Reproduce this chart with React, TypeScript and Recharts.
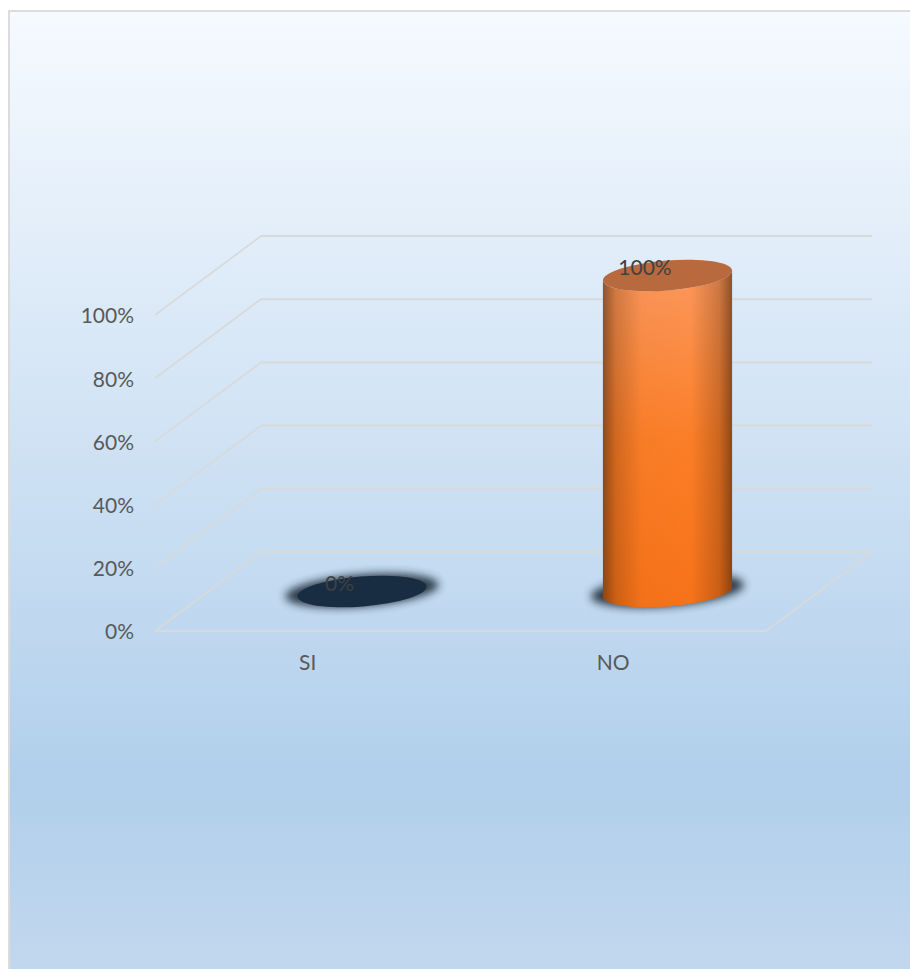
import { Bar, BarChart, CartesianGrid, LabelList, XAxis, YAxis } from "recharts";

const categories = ["SI", "NO"];
const percentValues = [0, 100];
const yTicks = [0, 20, 40, 60, 80, 100];

const data = categories.map((name, i) => ({ name, value: percentValues[i] }));

// floor depth of the pseudo 3D box
const DEPTH_X = 106;
const DEPTH_Y = -79;
const TILT = -4.5;
const FONT = "Lato, 'Open Sans', sans-serif";
const capColors = ["#182c42", "#b8693d"];
const gridColor = "#d8d9da";

function GridLine(props: any) {
    const { x1, x2, y1, index } = props;
    return (
        <g>
            <line x1={x1} y1={y1} x2={x1 + DEPTH_X} y2={y1 + DEPTH_Y} stroke={gridColor} strokeWidth={1.7} />
            <line x1={x1 + DEPTH_X} y1={y1 + DEPTH_Y} x2={x2 + DEPTH_X} y2={y1 + DEPTH_Y} stroke={gridColor} strokeWidth={2} />
            {/* ticks run bottom up here, first one is the floor */}
            {index === 0 && (
                <>
                    <line x1={x1} y1={y1} x2={x2} y2={y1} stroke={gridColor} strokeWidth={2} />
                    <line x1={x2} y1={y1} x2={x2 + DEPTH_X} y2={y1 + DEPTH_Y} stroke={gridColor} strokeWidth={1.7} />
                </>
            )}
        </g>
    );
}

function Cylinder(props: any) {
    const { x, y, width, height, index } = props;
    const cx = x + width / 2 + DEPTH_X / 2 + 1.5;
    const top = y + DEPTH_Y / 2;
    const bottom = top + height;
    const rx = width * 0.502;
    const ry = width * 0.116;
    const a = (TILT * Math.PI) / 180;
    const t = Math.atan((-ry / rx) * Math.tan(a));
    const ex = rx * Math.cos(t) * Math.cos(a) - ry * Math.sin(t) * Math.sin(a);
    const ey = rx * Math.cos(t) * Math.sin(a) + ry * Math.sin(t) * Math.cos(a);
    const body =
        `M ${cx - ex} ${top - ey} L ${cx - ex} ${bottom - ey} ` +
        `A ${rx} ${ry} ${TILT} 0 0 ${cx + ex} ${bottom + ey} ` +
        `L ${cx + ex} ${top + ey} A ${rx} ${ry} ${TILT} 0 1 ${cx - ex} ${top - ey} Z`;
    return (
        <g>
            <ellipse
                cx={cx}
                cy={bottom - 1}
                rx={rx + 12}
                ry={ry + 1}
                fill="#1c2a38"
                opacity={0.9}
                filter="url(#floorShadow)"
                transform={`rotate(${TILT} ${cx} ${bottom})`}
            />
            {height > 0 && (
                <>
                    <path d={body} fill="url(#bodyFill)" />
                    <path d={body} fill="url(#bodyShade)" />
                </>
            )}
            <ellipse
                cx={cx}
                cy={top}
                rx={rx}
                ry={ry}
                fill={capColors[index]}
                transform={`rotate(${TILT} ${cx} ${top})`}
            />
        </g>
    );
}

function ValueLabel(props: any) {
    const { x, y, width, value } = props;
    return (
        <text
            x={x + width / 2 + 32}
            y={y - 49}
            textAnchor="middle"
            dominantBaseline="central"
            fontFamily={FONT}
            fontSize={21}
            fill="#404040"
        >
            {`${value}%`}
        </text>
    );
}

export default function App() {
    return (
        <div style={{ position: "absolute", left: 0, top: 0, width: 910, height: 969, overflow: "hidden" }}>
            <div
                style={{
                    position: "absolute",
                    left: 8,
                    top: 10,
                    width: 920,
                    height: 980,
                    boxSizing: "border-box",
                    border: "2px solid #dcdcdc",
                    background: "linear-gradient(180deg, #f6faff 0%, #b1cfeb 79%, #c3d8ee 100%)",
                }}
            />
            <BarChart
                width={910}
                height={969}
                data={data}
                margin={{ top: 315, right: 144, bottom: 268, left: 75 }}
                barSize={129}
                style={{ position: "absolute", left: 0, top: 0 }}
            >
                <defs>
                    <linearGradient id="bodyFill" x1="0" y1="0" x2="0" y2="1">
                        <stop offset="0%" stopColor="#ff9a5e" />
                        <stop offset="50%" stopColor="#ff8028" />
                        <stop offset="100%" stopColor="#fa7419" />
                    </linearGradient>
                    <linearGradient id="bodyShade" x1="0" y1="0" x2="1" y2="0">
                        <stop offset="0%" stopColor="#4a2408" stopOpacity={0.6} />
                        <stop offset="10%" stopColor="#4a2408" stopOpacity={0.26} />
                        <stop offset="30%" stopColor="#4a2408" stopOpacity={0.04} />
                        <stop offset="68%" stopColor="#4a2408" stopOpacity={0.02} />
                        <stop offset="90%" stopColor="#4a2408" stopOpacity={0.28} />
                        <stop offset="100%" stopColor="#4a2408" stopOpacity={0.62} />
                    </linearGradient>
                    <filter id="floorShadow" x="-20%" y="-60%" width="140%" height="220%">
                        <feGaussianBlur stdDeviation="4" />
                    </filter>
                </defs>
                <CartesianGrid vertical={false} horizontal={(p: any) => <GridLine key={p.index} {...p} />} />
                <XAxis
                    dataKey="name"
                    height={70}
                    axisLine={false}
                    tickLine={false}
                    tickSize={0}
                    tickMargin={24}
                    tick={{ fontFamily: FONT, fontSize: 21, fill: "#595959" }}
                />
                <YAxis
                    width={80}
                    domain={[0, 100]}
                    ticks={yTicks}
                    tickFormatter={(v: number) => `${v}%`}
                    axisLine={false}
                    tickLine={false}
                    tickSize={0}
                    tickMargin={21}
                    tick={{ fontFamily: FONT, fontSize: 21, fill: "#595959", dy: 1 }}
                />
                <Bar dataKey="value" shape={<Cylinder />} isAnimationActive={false}>
                    <LabelList dataKey="value" content={<ValueLabel />} />
                </Bar>
            </BarChart>
        </div>
    );
}
